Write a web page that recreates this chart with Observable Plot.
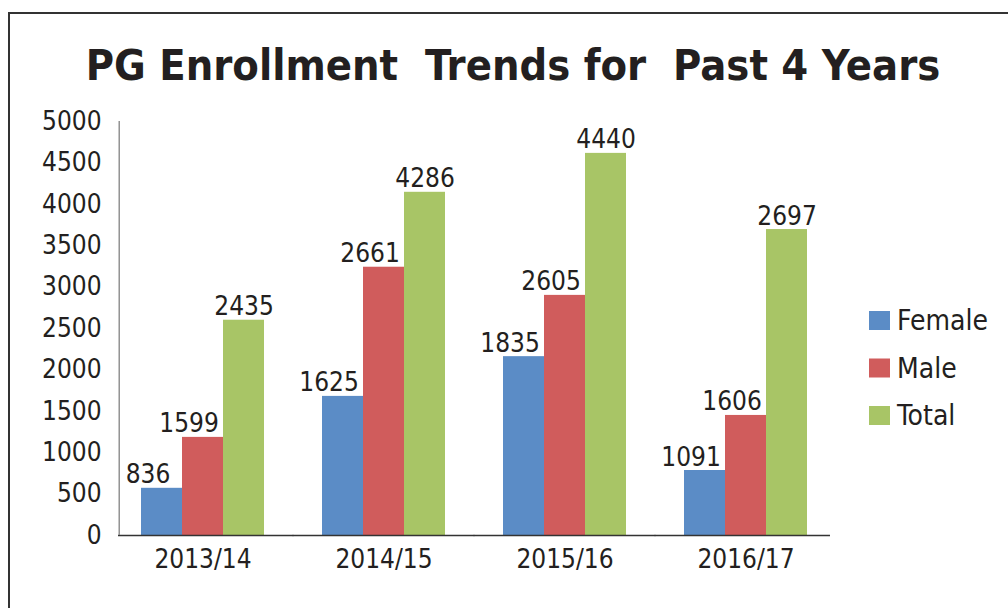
<!DOCTYPE html>
<html>
<head>
<meta charset="utf-8">
<script src="https://cdn.jsdelivr.net/npm/d3@7"></script>
<script src="https://cdn.jsdelivr.net/npm/@observablehq/plot@0.6"></script>
<style>
  html, body { margin: 0; padding: 0; background: #fff; }
  #wrap { position: relative; width: 1008px; height: 608px; overflow: hidden; }
  #frame { position: absolute; left: 8px; top: 12px; width: 1200px; height: 800px; border: 2px solid #333; box-sizing: border-box; }
  #chart { position: absolute; left: 0; top: 0; }
</style>
</head>
<body>
<div id="wrap"><div id="frame"></div><div id="chart"></div></div>
<script>
// ---- data ----
const years = ["2013/14", "2014/15", "2015/16", "2016/17"];
const series = ["Female", "Male", "Total"];
// bar heights as drawn
const femaleBars = [570, 1680, 2160, 785];
const maleBars = [1185, 3240, 2900, 1450];
const totalBars = [2600, 4145, 4615, 3695];
// printed data labels
const femaleLabels = [836, 1625, 1835, 1091];
const maleLabels = [1599, 2661, 2605, 1606];
const totalLabels = [2435, 4286, 4440, 2697];
const yTicks = [0, 500, 1000, 1500, 2000, 2500, 3000, 3500, 4000, 4500, 5000];
const colors = ["#5B8CC6", "#D05C5C", "#A8C566"];
const title = "PG Enrollment  Trends for  Past 4 Years";

const barSets = [femaleBars, maleBars, totalBars];
const labelSets = [femaleLabels, maleLabels, totalLabels];
const data = years.flatMap((yr, i) =>
  series.map((s, j) => ({ year: yr, series: s, value: barSets[j][i], label: labelSets[j][i] }))
);

const FONT = "'DejaVu Sans Condensed', 'DejaVu Sans', sans-serif";
const W = 1008, H = 608;
const mL = 117, mR = 177, mT = 121, mB = 73;
const pIn = 0.312, pOut = 0.121;
const step = (W - mL - mR) / (years.length - pIn + 2 * pOut);
const halfGap = step * pIn / 2;
const outer = step * pOut;
const bw = step * (1 - pIn) / series.length;
const textColor = "#231f20";
const axisColor = "#333";

const plot = Plot.plot({
  width: W, height: H,
  marginLeft: mL, marginRight: mR, marginTop: mT, marginBottom: mB,
  style: { fontFamily: FONT, fontSize: "26px", color: textColor, background: "transparent", overflow: "visible" },
  fx: { domain: years, paddingInner: pIn, paddingOuter: pOut, label: null },
  x: { domain: series, padding: 0, axis: null },
  y: { domain: [0, 5000], axis: null },
  color: { domain: series, range: colors },
  marks: [
    Plot.barY(data, { fx: "year", x: "series", y: "value", fill: "series" }),
    // baseline, continuous across groups
    Plot.ruleY([years[0]], { fx: d => d, y: () => 0, stroke: axisColor, strokeWidth: 1.5, insetLeft: -outer, insetRight: -halfGap }),
    Plot.ruleY(years.slice(1, -1), { fx: d => d, y: () => 0, stroke: axisColor, strokeWidth: 1.5, insetLeft: -halfGap, insetRight: -halfGap }),
    Plot.ruleY([years[years.length - 1]], { fx: d => d, y: () => 0, stroke: axisColor, strokeWidth: 1.5, insetLeft: -halfGap, insetRight: -outer }),
    // vertical axis line
    Plot.ruleX(["Female"], { x: d => d, y1: 0, y2: 5000, dx: -(bw / 2 + outer), stroke: "#777", strokeWidth: 1.2, facetAnchor: "left" }),
    Plot.text(data.filter(d => d.series !== "Total"), {
      fx: "year", x: "series", y: "value", text: d => String(d.label), lineAnchor: "bottom", dy: -5, dx: -14,
      fill: textColor, fontSize: 26
    }),
    Plot.text(data.filter(d => d.series === "Total"), {
      fx: "year", x: "series", y: "value", text: d => String(d.label), lineAnchor: "bottom", dy: -5,
      fill: textColor, fontSize: 26
    }),
    Plot.axisY({ ticks: yTicks, tickSize: 0, tickPadding: 17 + outer, tickFormat: d => String(d), label: null, fontSize: 26, fill: textColor }),
    Plot.axisFx({ anchor: "bottom", tickSize: 0, tickPadding: 14, label: null, fontSize: 26, fill: textColor })
  ]
});

const svg = d3.select(plot);
// Title
svg.append("text")
  .attr("x", 513).attr("y", 80)
  .attr("text-anchor", "middle")
  .style("white-space", "pre")
  .attr("font-family", FONT).attr("font-weight", "bold").attr("font-size", 43)
  .attr("fill", textColor)
  .text(title);
// Legend
const lg = svg.append("g").attr("transform", "translate(869,311)");
series.forEach((s, i) => {
  const g = lg.append("g").attr("transform", `translate(0,${i * 47.5})`);
  g.append("rect").attr("width", 21).attr("height", 19).attr("fill", colors[i]);
  g.append("text").attr("x", 28).attr("y", 19).attr("text-anchor", "start")
    .attr("font-family", FONT).attr("font-size", 28).attr("fill", textColor).text(s);
});

document.getElementById("chart").appendChild(plot);
</script>
</body>
</html>
